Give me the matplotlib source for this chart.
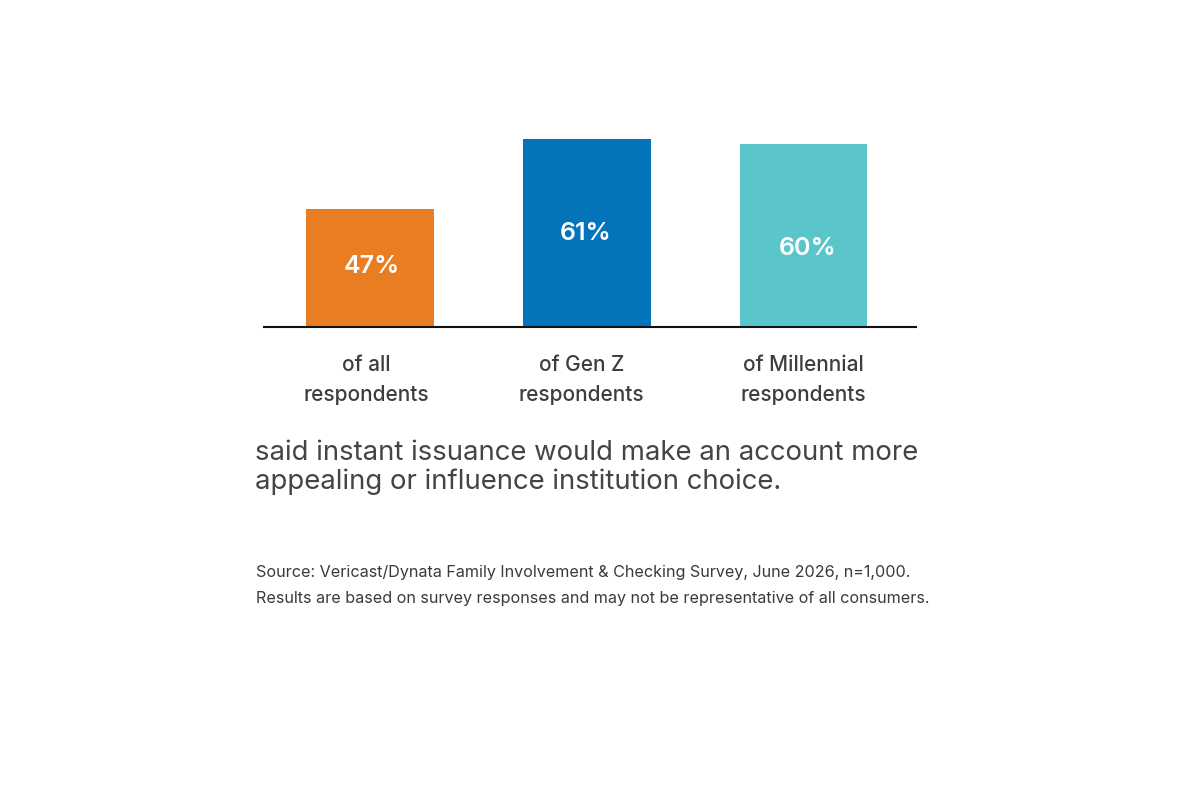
import matplotlib
matplotlib.use("Agg")
import matplotlib.pyplot as plt
from matplotlib.transforms import ScaledTranslation

# ---- data ----
categories = ["of all\nrespondents", "of Gen Z\nrespondents", "of Millennial\nrespondents"]
values = [47, 61, 60]
value_labels = ["47%", "61%", "60%"]
colors = ["#E87D22", "#0374BA", "#5BC5CC"]
caption = "said instant issuance would make an account more\nappealing or influence institution choice."
source_lines = [
    "Source: Vericast/Dynata Family Involvement & Checking Survey, June 2026, n=1,000.",
    "Results are based on survey responses and may not be representative of all consumers.",
]

FONT = ["Inter", "DejaVu Sans"]
plt.rcParams["font.family"] = FONT

W, H = 1200, 800
fig = plt.figure(figsize=(12, 8), dpi=100)
fig.patch.set_facecolor("white")

def fx(px):
    return px / W

def fy(py):
    return 1 - py / H

# axes: baseline at y=327, top at y=100, x from 264 to 916
ax = fig.add_axes([fx(264), fy(327), fx(916 - 264), (327 - 100) / H])
base = 23.7
ax.set_ylim(base, base + 227 / 5.05)
ax.set_xlim(-0.489, 2.519)

xs = list(range(len(values)))
heights = [v - base for v in values]
ax.bar(xs, heights, bottom=base, width=0.59, color=colors, zorder=2)

# value labels (offsets in points, styling only)
dx = [1.5, -0.5, 3]
dy = [1.5, -0.5, -9.5]
for i, (v, lab) in enumerate(zip(values, value_labels)):
    ax.annotate(lab, (xs[i], base + (v - base) / 2), xytext=(dx[i], dy[i]),
                textcoords="offset points", ha="center", va="center",
                color="white", fontsize=18, fontweight="semibold")

for s in ["top", "right", "left"]:
    ax.spines[s].set_visible(False)
ax.spines["bottom"].set_color("#111111")
ax.spines["bottom"].set_linewidth(1.5)
ax.set_yticks([])
ax.set_xticks(xs)
ax.set_xticklabels(categories, fontsize=15, color="#3d3d3d", fontweight="medium",
                   linespacing=1.66)
ax.tick_params(axis="x", length=0, pad=20)
# small horizontal nudges of tick labels (points)
tick_dx = [-2.5, -4, 0]
for lbl, d in zip(ax.get_xticklabels(), tick_dx):
    lbl.set_transform(lbl.get_transform() + ScaledTranslation(d / 72, 0, fig.dpi_scale_trans))
ax.patch.set_visible(False)

fig.text(fx(255), fy(467.5), caption, ha="left", va="center", fontsize=19.8,
         color="#444444", linespacing=1.17)
fig.text(fx(256), fy(573), source_lines[0], ha="left", va="center", fontsize=11.6, color="#3a3a3a")
fig.text(fx(256), fy(598), source_lines[1], ha="left", va="center", fontsize=11.6, color="#3a3a3a")

fig.savefig("out.png", dpi=100, facecolor="white")
